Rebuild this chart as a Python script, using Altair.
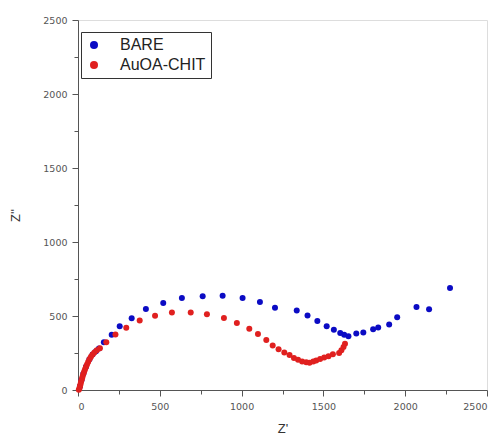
import altair as alt
import pandas as pd

# BARE series (Z', Z'')
bare_x = [12, 21, 33, 49, 70, 89, 110, 128, 158, 206, 255, 328, 415, 521, 635, 762, 884,
          1006, 1112, 1204, 1337, 1403, 1463, 1520, 1564, 1603, 1627, 1653, 1701, 1744,
          1804, 1835, 1902, 1951, 2069, 2146, 2274]
bare_y = [25, 66, 110, 157, 207, 240, 262, 280, 322, 374, 431, 484, 547, 587, 621, 633, 637,
          621, 594, 556, 538, 504, 466, 430, 407, 385, 373, 364, 382, 389,
          411, 423, 443, 491, 560, 545, 690]

# AuOA-CHIT series (Z', Z'')
chit_x = [5, 9, 12, 15, 18, 21, 25, 29, 33, 38, 43, 49, 55, 62, 70, 79, 89, 100, 115,
          134, 173, 229, 295, 377, 471, 574, 689, 788, 892, 971, 1047, 1100, 1151, 1190,
          1226, 1261, 1293, 1320, 1345, 1370, 1395, 1415, 1438, 1456, 1480, 1505, 1531,
          1558, 1596, 1610, 1623, 1632]
chit_y = [2, 12, 25, 38, 52, 66, 80, 95, 110, 125, 140, 157, 173, 190, 207, 224, 240, 254, 268,
          282, 323, 375, 421, 470, 502, 524, 524, 511, 486, 452, 414, 378, 338, 301,
          276, 254, 236, 217, 204, 193, 188, 184, 192, 200, 210, 219, 228,
          242, 250, 268, 290, 312]

series_names = ["BARE", "AuOA-CHIT"]
series_colors = ["#0b0bc4", "#e0201f"]
ticks = list(range(0, 2501, 250))

df = pd.concat([
    pd.DataFrame({"x": bare_x, "y": bare_y, "s": series_names[0], "o": 0}),
    pd.DataFrame({"x": chit_x, "y": chit_y, "s": series_names[1], "o": 1}),
], ignore_index=True)

tick_size = {"condition": {"test": "datum.value % 500 == 0", "value": 6}, "value": 4}
label_expr = "datum.value % 500 == 0 ? datum.label : ''"

axis_common = dict(
    values=ticks, format="d", labelExpr=label_expr, tickSize=tick_size,
    grid=False, domainColor="#555", tickColor="#555", labelColor="#555",
    labelFont="DejaVu Sans", labelFontSize=9.5, titleFont="Liberation Sans",
    titleFontSize=13, titleFontWeight="normal", titleColor="#333", labelPadding=5,
)

chart = alt.Chart(df).mark_point(filled=True, size=36, opacity=1).encode(
    x=alt.X("x:Q", scale=alt.Scale(domain=[0, 2500], nice=False),
            axis=alt.Axis(title="Z'", titlePadding=12, **axis_common)),
    y=alt.Y("y:Q", scale=alt.Scale(domain=[0, 2500], nice=False),
            axis=alt.Axis(title="Z''", titlePadding=20, titleY=195, **axis_common)),
    color=alt.Color("s:N", scale=alt.Scale(domain=series_names, range=series_colors),
                    legend=alt.Legend(orient="none", legendX=3, legendY=12, title=None,
                                      strokeColor="#333", fillColor="white", padding=5,
                                      rowPadding=4, symbolSize=64, symbolType="circle",
                                      labelFont="Liberation Sans", labelFontSize=16,
                                      labelColor="#222", labelOffset=18,
                                      symbolStrokeWidth=0, cornerRadius=0)),
    order=alt.Order("o:Q"),
).properties(
    width=409, height=370,
    autosize=alt.AutoSizeParams(type="none"),
    padding={"left": 78, "top": 20, "right": 12, "bottom": 47},
).configure_view(stroke="#666", strokeWidth=1).configure(background="white")

chart.save("out.html", embed_options={"renderer": "svg", "actions": False})
